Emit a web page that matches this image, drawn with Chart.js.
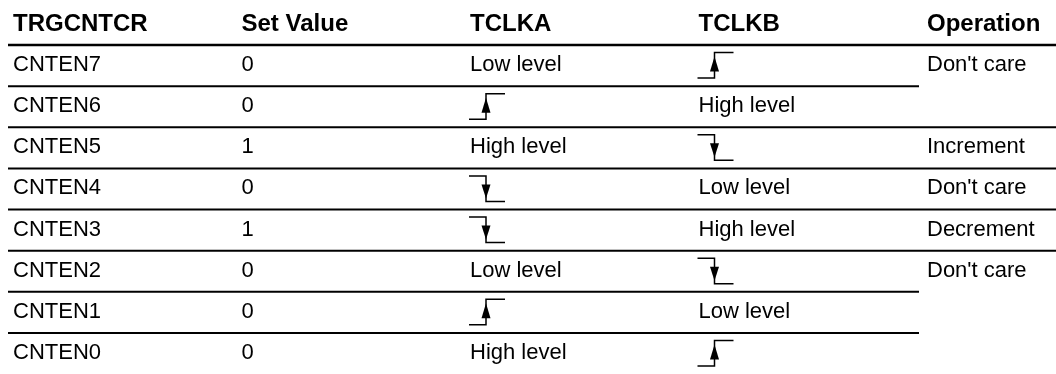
<!DOCTYPE html>
<html>
<head>
<meta charset="utf-8">
<script src="https://cdn.jsdelivr.net/npm/chart.js@4/dist/chart.umd.min.js"></script>
<style>
  html, body { margin: 0; padding: 0; background: #fff; }
  #wrap { width: 1056px; height: 374px; position: relative; }
</style>
</head>
<body>
<div id="wrap"><canvas id="table"></canvas></div>
<script>
// table contents, one array per column
const headers = ['TRGCNTCR', 'Set Value', 'TCLKA', 'TCLKB', 'Operation'];
const registers = ['CNTEN7', 'CNTEN6', 'CNTEN5', 'CNTEN4', 'CNTEN3', 'CNTEN2', 'CNTEN1', 'CNTEN0'];
const setValues = ['0', '0', '1', '0', '1', '0', '0', '0'];
const tclka = ['Low level', 'rise', 'High level', 'fall', 'fall', 'Low level', 'rise', 'High level'];
const tclkb = ['rise', 'High level', 'fall', 'Low level', 'High level', 'fall', 'Low level', 'rise'];
// '' = merged with the cell above
const operation = ["Don't care", '', 'Increment', "Don't care", 'Decrement', "Don't care", '', ''];

const columns = [registers, setValues, tclka, tclkb, operation];

const bodyFont = '22px "Liberation Sans", Arial, Helvetica, sans-serif';
const headFont = 'bold 24px "Liberation Sans", Arial, Helvetica, sans-serif';

function drawEdge(ctx, x, cy, rising) {
    const mid = x + 17, end = x + 36;
    const hi = cy - 13, lo = cy + 12.5;
    ctx.save();
    ctx.strokeStyle = '#000';
    ctx.fillStyle = '#000';
    ctx.lineWidth = 1.5;
    ctx.beginPath();
    if (rising) {
        ctx.moveTo(x, lo); ctx.lineTo(mid, lo); ctx.lineTo(mid, hi); ctx.lineTo(end, hi);
    } else {
        ctx.moveTo(x, hi); ctx.lineTo(mid, hi); ctx.lineTo(mid, lo); ctx.lineTo(end, lo);
    }
    ctx.stroke();
    ctx.beginPath();
    if (rising) {
        ctx.moveTo(mid, hi + 4); ctx.lineTo(mid - 4.5, hi + 19); ctx.lineTo(mid + 4.5, hi + 19);
    } else {
        ctx.moveTo(mid, lo - 3); ctx.lineTo(mid - 4.5, lo - 17); ctx.lineTo(mid + 4.5, lo - 17);
    }
    ctx.closePath();
    ctx.fill();
    ctx.restore();
}

const tablePlugin = {
    id: 'tableCells',
    afterDatasetsDraw(chart) {
        const ctx = chart.ctx;
        const area = chart.chartArea;
        const xs = chart.scales.x;
        const ys = chart.scales.y;
        const rowH = ys.getPixelForValue(1) - ys.getPixelForValue(0);

        ctx.save();
        ctx.fillStyle = '#000';
        ctx.textAlign = 'left';
        ctx.textBaseline = 'alphabetic';

        // header row
        ctx.font = headFont;
        headers.forEach((h, c) => {
            ctx.fillText(h, xs.getPixelForValue(c) + 1, area.top - 14);
        });

        // rules
        ctx.strokeStyle = '#000';
        ctx.lineWidth = 2.4;
        ctx.beginPath();
        ctx.moveTo(area.left - 4, area.top);
        ctx.lineTo(chart.width, area.top);
        ctx.stroke();
        ctx.lineWidth = 2;
        const opX = xs.getPixelForValue(headers.length - 1);
        for (let i = 0; i < registers.length - 1; i++) {
            const y = ys.getPixelForValue(i) + rowH / 2;
            const merged = operation[i + 1] === '';
            ctx.beginPath();
            ctx.moveTo(area.left - 4, y);
            ctx.lineTo(merged ? opX - 7 : chart.width, y);
            ctx.stroke();
        }

        // cells
        ctx.font = bodyFont;
        chart.data.datasets.forEach((ds, d) => {
            const meta = chart.getDatasetMeta(d);
            meta.data.forEach((pt, i) => {
                const v = ds.cells[i];
                if (v === 'rise' || v === 'fall') {
                    drawEdge(ctx, pt.x, pt.y, v === 'rise');
                } else if (v) {
                    ctx.fillText(v, pt.x + 1, pt.y + 5.5);
                }
            });
        });
        ctx.restore();
    }
};

const table = document.getElementById('table').getContext('2d');
const myTable = new Chart(table, {
    type: 'line',
    data: {
        datasets: columns.map((col, c) => ({
            label: headers[c],
            cells: col,
            data: registers.map((r) => ({x: headers[c], y: r})),
            showLine: false,
            pointRadius: 0,
            pointHoverRadius: 0
        }))
    },
    options: {
        responsive: true,
        maintainAspectRatio: false,
        animation: false,
        events: [],
        layout: {
            padding: {top: 45, left: 12, right: 130, bottom: -2}
        },
        plugins: {
            legend: {display: false},
            tooltip: {enabled: false}
        },
        scales: {
            x: {type: 'category', labels: headers, offset: false, display: false},
            y: {type: 'category', labels: registers, offset: true, display: false}
        }
    },
    plugins: [tablePlugin]
});
</script>
</body>
</html>
